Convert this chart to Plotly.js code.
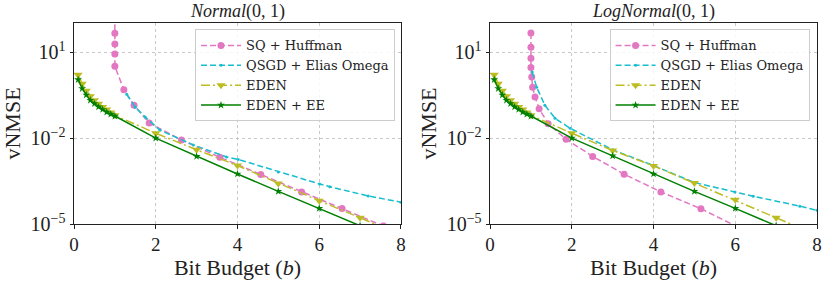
<!DOCTYPE html>
<html>
<head>
<meta charset="utf-8">
<script src="https://cdn.plot.ly/plotly-3.0.1.min.js"></script>
<style>html,body{margin:0;padding:0;background:#fff;}#chart{width:822px;height:282px;}</style>
</head>
<body>
<div id="chart"></div>
<script>
// ---- Normal(0,1) panel ----
const normSqX = [1.0, 1.0, 1.0, 1.0, 1.0, 1.22, 1.47, 1.84, 2.63, 3.57, 4.57, 5.57, 6.56, 7.57];
const normSqY = [400, 45.7, 19.5, 8.7, 3.2, 0.49, 0.14, 0.034, 0.0085, 0.00214, 5.4e-4, 1.32e-4, 3.5e-5, 8.5e-6];
const normQsgdX = [1.29, 1.5, 1.74, 2.1, 2.92, 3.73, 4.02, 5.0, 6.01, 6.26, 7.2, 8.0];
const normQsgdY = [0.34, 0.12, 0.055, 0.019, 0.0058, 0.0022, 0.0018, 6.6e-4, 2.5e-4, 2.0e-4, 9.5e-5, 5.8e-5];
const normEdenX = [0.1, 0.2, 0.3, 0.4, 0.5, 0.6, 0.7, 0.8, 0.9, 1.0, 2, 3, 4, 5, 6, 7, 8];
const normEdenY = [1.64, 0.79, 0.45, 0.29, 0.21, 0.16, 0.123, 0.10, 0.079, 0.063, 0.0148, 0.0039, 0.0011, 2.6e-4, 6.5e-5, 1.66e-5, 4.0e-6];
const normEeX = [0.1, 0.2, 0.3, 0.4, 0.5, 0.6, 0.7, 0.8, 0.9, 1.0, 2, 3, 4, 5, 6, 7];
const normEeY = [1.10, 0.54, 0.32, 0.21, 0.16, 0.123, 0.10, 0.081, 0.069, 0.059, 0.010, 0.0023, 5.6e-4, 1.38e-4, 3.5e-5, 8.7e-6];

// ---- LogNormal(0,1) panel ----
const lognSqX = [1.0, 1.0, 1.0, 1.0, 1.02, 1.04, 1.1, 1.2, 1.42, 1.86, 2.51, 3.28, 4.18, 5.16, 6.2];
const lognSqY = [46.8, 14.8, 6.2, 2.9, 1.35, 0.60, 0.275, 0.107, 0.032, 0.0091, 0.0023, 5.5e-4, 1.32e-4, 3.4e-5, 6.3e-6];
const lognQsgdX = [1.03, 1.14, 1.34, 1.59, 1.96, 3.0, 4.0, 5.0, 5.99, 6.44, 7.58, 8.0];
const lognQsgdY = [2.04, 0.60, 0.141, 0.049, 0.022, 0.0039, 0.0011, 2.8e-4, 1.32e-4, 9.3e-5, 4.2e-5, 3.0e-5];
const lognEdenX = [0.1, 0.2, 0.3, 0.4, 0.5, 0.6, 0.7, 0.8, 0.9, 1.0, 2, 3, 4, 5, 6, 7, 8];
const lognEdenY = [1.64, 0.79, 0.45, 0.29, 0.21, 0.16, 0.123, 0.10, 0.079, 0.063, 0.0148, 0.0037, 0.00107, 2.7e-4, 7.0e-5, 1.66e-5, 4.0e-6];
const lognEeX = [0.1, 0.2, 0.3, 0.4, 0.5, 0.6, 0.7, 0.8, 0.9, 1.0, 2, 3, 4, 5, 6, 7];
const lognEeY = [1.10, 0.54, 0.32, 0.21, 0.16, 0.123, 0.10, 0.081, 0.069, 0.059, 0.010, 0.0024, 5.6e-4, 1.38e-4, 3.5e-5, 8.7e-6];

const seriesNames = ["SQ + Huffman", "QSGD + Elias Omega", "EDEN", "EDEN + EE"];
const panelTitles = ["<i>Normal</i>(0, 1)", "<i>LogNormal</i>(0, 1)"];
const xTitle = "Bit Budget (<i>b</i>)";
const yTitle = "vNMSE";
const xTicks = [0, 2, 4, 6, 8];
const yTickVals = [1e-5, 1e-2, 1e1];
const yTickText = ["10<sup>−5</sup>", "10<sup>−2</sup>", "10<sup>1</sup>"];

const FONT = "Liberation Serif, DejaVu Serif, serif";
const LFONT = "DejaVu Serif, Liberation Serif, serif";
const styles = [
  {color: "#e377c2", dash: "6px,3px", symbol: "circle", size: 7},
  {color: "#17becf", dash: "6px,3px", symbol: "circle", size: 3},
  {color: "#bcbd22", dash: "9px,3px,2px,3px", symbol: "triangle-down", size: 8},
  {color: "#008000", dash: "solid", symbol: "star", size: 6}
];

function mk(x, y, i, panel) {
  const s = styles[i];
  return {
    x: x, y: y, name: seriesNames[i], type: "scatter", mode: "lines+markers",
    xaxis: panel === 0 ? "x" : "x2", yaxis: panel === 0 ? "y" : "y2",
    legend: panel === 0 ? "legend" : "legend2",
    line: {color: s.color, width: 1.5, dash: s.dash},
    marker: {color: s.color, symbol: s.symbol, size: s.size, line: {width: 0}},
    cliponaxis: true
  };
}

const data = [
  mk(normSqX, normSqY, 0, 0), mk(normQsgdX, normQsgdY, 1, 0),
  mk(normEdenX, normEdenY, 2, 0), mk(normEeX, normEeY, 3, 0),
  mk(lognSqX, lognSqY, 0, 1), mk(lognQsgdX, lognQsgdY, 1, 1),
  mk(lognEdenX, lognEdenY, 2, 1), mk(lognEeX, lognEeY, 3, 1)
];

function xax(domain, anchor) {
  return {
    domain: domain, anchor: anchor, range: [0, 8], tickvals: xTicks,
    showline: true, mirror: true, linecolor: "#222", linewidth: 1,
    ticks: "outside", ticklen: 3.5, tickcolor: "#222",
    showgrid: true, gridcolor: "#c8c8c8", griddash: "dot", gridwidth: 1,
    zeroline: false, tickfont: {family: FONT, size: 19, color: "#222"},
    ticklabeloverflow: "allow",
    title: {text: xTitle, font: {family: FONT, size: 22, color: "#222"}, standoff: 2}
  };
}
function yax(anchor) {
  return {
    anchor: anchor, type: "log", range: [-5, 2.02], tickvals: yTickVals, ticktext: yTickText,
    showline: true, mirror: true, linecolor: "#222", linewidth: 1,
    ticks: "outside", ticklen: 3.5, tickcolor: "#222",
    showgrid: true, gridcolor: "#c8c8c8", griddash: "dot", gridwidth: 1,
    zeroline: false, tickfont: {family: FONT, size: 20, color: "#222"},
    title: {text: yTitle, font: {family: FONT, size: 22, color: "#222"}, standoff: 3}
  };
}
const legendBase = {
  bgcolor: "rgba(255,255,255,0.85)", bordercolor: "#cccccc", borderwidth: 1,
  font: {family: LFONT, size: 13, color: "#222"}, xanchor: "right", yanchor: "top",
  tracegroupgap: 0, itemwidth: 40
};

function ann(text, xref, y, size, yanchor) {
  return {text: text, xref: xref, yref: "paper", x: 0.5, y: y, xanchor: "center", yanchor: yanchor,
          showarrow: false, font: {family: FONT, size: size, color: "#222"}};
}

const layout = {
  width: 822, height: 282,
  margin: {l: 74, r: 5, t: 23, b: 58},
  paper_bgcolor: "#fff", plot_bgcolor: "#fff",
  showlegend: true,
  xaxis: xax([0, 0.44], "y"),
  yaxis: yax("x"),
  xaxis2: xax([0.56, 1], "y2"),
  yaxis2: yax("x2"),
  legend: Object.assign({x: 0.432, y: 0.968}, legendBase),
  legend2: Object.assign({x: 0.99, y: 0.968}, legendBase),
  annotations: [
    ann(panelTitles[0], "x domain", 1.055, 18, "middle"),
    ann(panelTitles[1], "x2 domain", 1.055, 18, "middle")
  ]
};

Plotly.newPlot("chart", data, layout, {displayModeBar: false, staticPlot: true});
</script>
</body>
</html>
